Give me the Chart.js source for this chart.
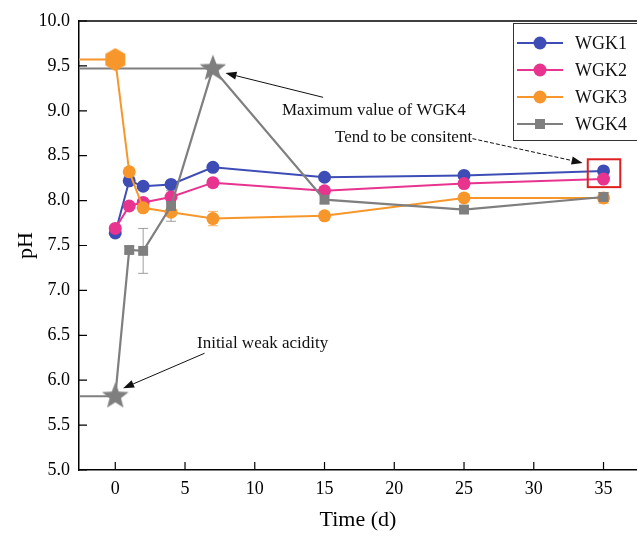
<!DOCTYPE html>
<html>
<head>
<meta charset="utf-8">
<script src="https://cdn.jsdelivr.net/npm/chart.js@4"></script>
<style>
  html, body { margin: 0; background: #fff; overflow: hidden; }
  #phChart { display: block; }
</style>
</head>
<body>
<canvas id="phChart" width="637" height="536"></canvas>
<script>
const days = [0, 1, 2, 4, 7, 15, 25, 35];
const seriesNames = ["WGK1", "WGK2", "WGK3", "WGK4"];
const wgk1 = [7.64, 8.22, 8.16, 8.18, 8.37, 8.26, 8.28, 8.33];
const wgk2 = [7.69, 7.94, 7.98, 8.04, 8.20, 8.11, 8.19, 8.24];
const wgk3 = [9.57, 8.32, 7.92, 7.87, 7.80, 7.83, 8.03, 8.03];
const wgk4 = [5.82, 7.45, 7.44, 7.94, 9.47, 8.01, 7.90, 8.04];
const wgk1Err = [0.02, 0.02, 0.02, 0.02, 0.02, 0.02, 0.02, 0.02];
const wgk2Err = [0.02, 0.02, 0.02, 0.02, 0.02, 0.02, 0.02, 0.02];
const wgk3Err = [0.02, 0.03, 0.03, 0.03, 0.08, 0.02, 0.02, 0.06];
const wgk4Err = [0.02, 0.04, 0.25, 0.17, 0.02, 0.04, 0.02, 0.05];
const xTicks = [0, 5, 10, 15, 20, 25, 30, 35];

const FONT = "'Liberation Serif', 'Times New Roman', serif";
const X_MIN = -2.6;
const X_MAX = 37.4;

const colors = ["#3d4db5", "#e8338f", "#f7962b", "#7f7f7f"];
const allValues = [wgk1, wgk2, wgk3, wgk4];
const allErrors = [wgk1Err, wgk2Err, wgk3Err, wgk4Err];

// highlighted points (series index, point index, shape)
const bigMarks = [
  { series: 2, idx: 0, shape: "hex" },
  { series: 3, idx: 0, shape: "star" },
  { series: 3, idx: 4, shape: "star" }
];

// text notes placed in data coordinates
const notes = [
  { text: "Maximum value of WGK4", x: 11.95, y: 9.0, from: [14.9, 9.15], to: [7.9, 9.42], dashed: false },
  { text: "Tend to be consitent", x: 15.75, y: 8.70, from: [25.6, 8.69], to: [33.5, 8.42], dashed: true },
  { text: "Initial weak acidity", x: 5.86, y: 6.41, from: [6.4, 6.30], to: [0.56, 5.91], dashed: false }
];
const box35 = { x1: 33.87, x2: 36.2, y1: 8.46, y2: 8.15 };

function makeShape(shape, color) {
  const c = document.createElement("canvas");
  const size = shape == "star" ? 30 : 24;
  c.width = size;
  c.height = size;
  const g = c.getContext("2d");
  const cx = size / 2, cy = size / 2;
  g.fillStyle = color;
  g.beginPath();
  if (shape == "star") {
    const outer = 14, inner = 6;
    for (let i = 0; i < 10; i++) {
      const r = i % 2 == 0 ? outer : inner;
      const a = -Math.PI / 2 + i * Math.PI / 5;
      const px = cx + r * Math.cos(a), py = cy + r * Math.sin(a);
      if (i == 0) g.moveTo(px, py); else g.lineTo(px, py);
    }
  } else {
    const r = 11.5;
    for (let i = 0; i < 6; i++) {
      const a = -Math.PI / 2 + i * Math.PI / 3;
      const px = cx + r * Math.cos(a), py = cy + r * Math.sin(a);
      if (i == 0) g.moveTo(px, py); else g.lineTo(px, py);
    }
  }
  g.closePath();
  g.fill();
  return c;
}

function isBig(series, idx) {
  return bigMarks.some(m => m.series == series && m.idx == idx);
}

const datasets = [];

// guide lines from the y axis to the highlighted points
bigMarks.forEach(m => {
  const y = allValues[m.series][m.idx];
  datasets.push({
    label: "guide",
    data: [{ x: X_MIN, y: y }, { x: days[m.idx], y: y }],
    showLine: true,
    borderColor: colors[m.series],
    borderWidth: 2,
    pointRadius: 0,
    order: 10
  });
});

seriesNames.forEach((name, s) => {
  datasets.push({
    label: name,
    data: days.map((d, i) => ({ x: d, y: allValues[s][i] })),
    errors: allErrors[s],
    showLine: true,
    borderColor: colors[s],
    backgroundColor: colors[s],
    borderWidth: s == 3 ? 2.2 : 2,
    pointStyle: s == 3 ? "rect" : "circle",
    pointRadius: ctx => isBig(s, ctx.dataIndex) ? 0 : (s == 3 ? 7 : 6.5),
    pointBorderWidth: 0,
    order: 4 - s
  });
});

bigMarks.forEach(m => {
  datasets.push({
    label: "mark",
    data: [{ x: days[m.idx], y: allValues[m.series][m.idx] }],
    pointStyle: makeShape(m.shape, colors[m.series]),
    pointRadius: 12,
    showLine: false,
    order: 0
  });
});

function drawArrow(g, x1, y1, x2, y2, dashed) {
  g.save();
  g.strokeStyle = "#111";
  g.fillStyle = "#111";
  g.lineWidth = 1;
  if (dashed) g.setLineDash([4, 2]);
  const ang = Math.atan2(y2 - y1, x2 - x1);
  const len = 11;
  g.beginPath();
  g.moveTo(x1, y1);
  g.lineTo(x2 - len * Math.cos(ang), y2 - len * Math.sin(ang));
  g.stroke();
  g.setLineDash([]);
  g.beginPath();
  g.moveTo(x2, y2);
  g.lineTo(x2 - len * Math.cos(ang) + 4 * Math.sin(ang), y2 - len * Math.sin(ang) - 4 * Math.cos(ang));
  g.lineTo(x2 - len * Math.cos(ang) - 4 * Math.sin(ang), y2 - len * Math.sin(ang) + 4 * Math.cos(ang));
  g.closePath();
  g.fill();
  g.restore();
}

const extrasPlugin = {
  id: "extras",
  beforeDatasetsDraw(chart) {
    const g = chart.ctx;
    const xs = chart.scales.x, ys = chart.scales.y;
    // error bars
    chart.data.datasets.forEach((ds, di) => {
      if (!ds.errors) return;
      g.save();
      g.strokeStyle = ds.borderColor;
      g.globalAlpha = 0.75;
      g.lineWidth = 1;
      ds.data.forEach((p, i) => {
        const e = ds.errors[i];
        if (!e) return;
        const px = xs.getPixelForValue(p.x);
        const top = ys.getPixelForValue(p.y + e);
        const bot = ys.getPixelForValue(p.y - e);
        g.beginPath();
        g.moveTo(px, top); g.lineTo(px, bot);
        g.moveTo(px - 5, top); g.lineTo(px + 5, top);
        g.moveTo(px - 5, bot); g.lineTo(px + 5, bot);
        g.stroke();
      });
      g.restore();
    });
  },
  afterDraw(chart) {
    const g = chart.ctx;
    const a = chart.chartArea;
    const xs = chart.scales.x, ys = chart.scales.y;

    g.save();
    g.strokeStyle = "#000";
    g.lineWidth = 1.5;
    g.beginPath();
    g.moveTo(a.left, a.top);
    g.lineTo(a.right, a.top);
    g.stroke();

    // inward ticks
    g.lineWidth = 1.2;
    g.beginPath();
    xTicks.forEach(v => {
      const px = xs.getPixelForValue(v);
      g.moveTo(px, a.bottom);
      g.lineTo(px, a.bottom - 8);
    });
    ys.ticks.forEach(t => {
      const py = ys.getPixelForValue(t.value);
      g.moveTo(a.left, py);
      g.lineTo(a.left + 8, py);
    });
    g.stroke();

    // red box at day 35
    g.strokeStyle = "#e02020";
    g.lineWidth = 2;
    const bx1 = xs.getPixelForValue(box35.x1), bx2 = xs.getPixelForValue(box35.x2);
    const by1 = ys.getPixelForValue(box35.y1), by2 = ys.getPixelForValue(box35.y2);
    g.strokeRect(bx1, by1, bx2 - bx1, by2 - by1);

    // notes
    g.fillStyle = "#111";
    g.font = "17px " + FONT;
    g.textBaseline = "middle";
    g.textAlign = "left";
    notes.forEach(n => {
      g.fillText(n.text, xs.getPixelForValue(n.x), ys.getPixelForValue(n.y));
      drawArrow(g, xs.getPixelForValue(n.from[0]), ys.getPixelForValue(n.from[1]),
        xs.getPixelForValue(n.to[0]), ys.getPixelForValue(n.to[1]), n.dashed);
    });

    // legend
    const lx = a.right - 124, ly = a.top + 2;
    g.fillStyle = "#fff";
    g.fillRect(lx, ly, 130, 117);
    g.strokeStyle = "#333";
    g.lineWidth = 1;
    g.strokeRect(lx + 0.5, ly + 0.5, 130, 117);
    seriesNames.forEach((name, s) => {
      const yy = ly + 20 + s * 27;
      g.strokeStyle = colors[s];
      g.fillStyle = colors[s];
      g.lineWidth = 2;
      g.beginPath();
      g.moveTo(lx + 4, yy);
      g.lineTo(lx + 50, yy);
      g.stroke();
      g.beginPath();
      if (s == 3) {
        g.fillRect(lx + 27 - 5, yy - 5, 10, 10);
      } else {
        g.arc(lx + 27, yy, 6.5, 0, Math.PI * 2);
        g.fill();
      }
      g.fillStyle = "#111";
      g.font = "18px " + FONT;
      g.fillText(name, lx + 62, yy + 1);
    });
    g.restore();
  }
};

const ctx = document.getElementById("phChart").getContext("2d");
const myChart = new Chart(ctx, {
  type: "scatter",
  data: { datasets: datasets },
  options: {
    responsive: false,
    animation: false,
    // no extra room for point radius, so the frame reaches the right edge
    layout: { autoPadding: false, padding: { top: 21, left: 0, right: 0, bottom: 0 } },
    plugins: {
      legend: { display: false },
      tooltip: { enabled: false }
    },
    scales: {
      x: {
        type: "linear",
        min: X_MIN,
        max: X_MAX,
        afterBuildTicks: scale => { scale.ticks = xTicks.map(v => ({ value: v })); },
        afterFit: scale => { scale.height = 66; },
        grid: { display: false, drawTicks: false },
        border: { display: true, color: "#000", width: 1.5 },
        ticks: { color: "#000", font: { family: FONT, size: 18 }, padding: 8, maxRotation: 0 },
        title: { display: true, text: "Time (d)", color: "#000", font: { family: FONT, size: 22 }, padding: { top: 4, bottom: 3 } }
      },
      y: {
        min: 5,
        max: 10,
        afterFit: scale => { scale.width = 79; },
        grid: { display: false, drawTicks: false },
        border: { display: true, color: "#000", width: 1.5 },
        ticks: { stepSize: 0.5, color: "#000", font: { family: FONT, size: 18 }, padding: 9, callback: v => v.toFixed(1) },
        title: { display: true, text: "pH", color: "#000", font: { family: FONT, size: 22 }, padding: { top: 13, bottom: 4 } }
      }
    }
  },
  plugins: [extrasPlugin]
});
</script>
</body>
</html>
